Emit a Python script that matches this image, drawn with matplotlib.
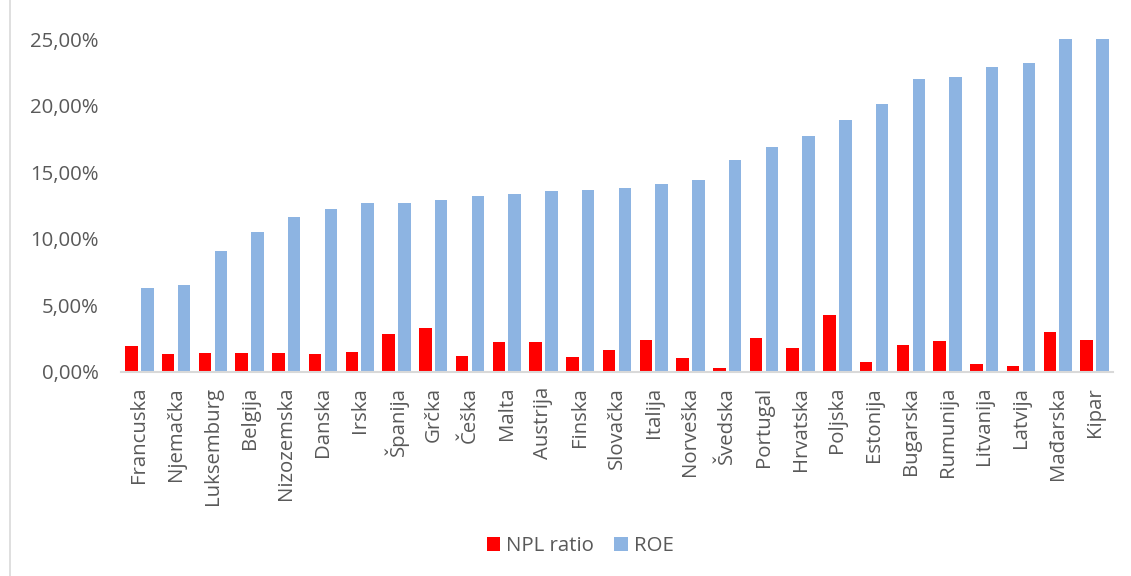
import numpy as np
import matplotlib
matplotlib.use('Agg')
import matplotlib.pyplot as plt
from matplotlib.ticker import FuncFormatter
from matplotlib.lines import Line2D

countries = ['Francuska', 'Njemačka', 'Luksemburg', 'Belgija', 'Nizozemska', 'Danska',
             'Irska', 'Španija', 'Grčka', 'Češka', 'Malta', 'Austrija', 'Finska',
             'Slovačka', 'Italija', 'Norveška', 'Švedska', 'Portugal', 'Hrvatska',
             'Poljska', 'Estonija', 'Bugarska', 'Rumunija', 'Litvanija', 'Latvija',
             'Mađarska', 'Kipar']
npl_ratio = [1.9, 1.3, 1.4, 1.4, 1.4, 1.3, 1.5, 2.8, 3.3, 1.2, 2.2, 2.2, 1.1,
             1.6, 2.4, 1.0, 0.3, 2.5, 1.8, 4.3, 0.7, 2.0, 2.3, 0.6, 0.4, 3.0, 2.4]
roe = [6.3, 6.5, 9.1, 10.5, 11.6, 12.2, 12.7, 12.7, 12.9, 13.2, 13.4, 13.6, 13.7,
       13.8, 14.1, 14.4, 15.9, 16.9, 17.7, 18.9, 20.1, 22.0, 22.2, 22.9, 23.2,
       25.0, 25.0]

plt.rcParams['font.family'] = ['Open Sans', 'DejaVu Sans']
txt = '#595959'

fig = plt.figure(figsize=(11.31, 5.76), dpi=100)
ax = fig.add_axes([0.107, 0.3547, 0.877, 0.5771])

x = np.arange(len(countries))
w = 0.34
ax.bar(x - 0.215, npl_ratio, w, color='#ff0000', label='NPL ratio')
ax.bar(x + 0.215, roe, w, color='#8db4e2', label='ROE')

ax.set_xlim(-0.5, len(countries) - 0.5)
ax.set_ylim(0, 25)
ax.set_yticks(np.arange(0, 26, 5))
ax.yaxis.set_major_formatter(FuncFormatter(lambda v, p: f'{v:.2f}%'.replace('.', ',')))
ax.set_xticks(x)
ax.set_xticklabels(countries, rotation=90)

for s in ['top', 'right', 'left']:
    ax.spines[s].set_visible(False)
ax.spines['bottom'].set_color('#d9d9d9')
ax.spines['bottom'].set_linewidth(1.5)
ax.tick_params(axis='both', length=0, labelsize=14.7, colors=txt)
ax.tick_params(axis='y', pad=16)
ax.tick_params(axis='x', pad=11)

leg = fig.legend(loc='center', bbox_to_anchor=(0.513, 0.052), ncol=2, frameon=False,
                 fontsize=14.7, handlelength=0.65, handleheight=0.65,
                 handletextpad=0.3, columnspacing=1.0)
for t in leg.get_texts():
    t.set_color(txt)

# chart area border on the left
fig.add_artist(Line2D([10 / 1131, 10 / 1131], [0, 1], color='#d9d9d9', lw=1.2,
                      transform=fig.transFigure))

fig.savefig('out.png', dpi=100)
